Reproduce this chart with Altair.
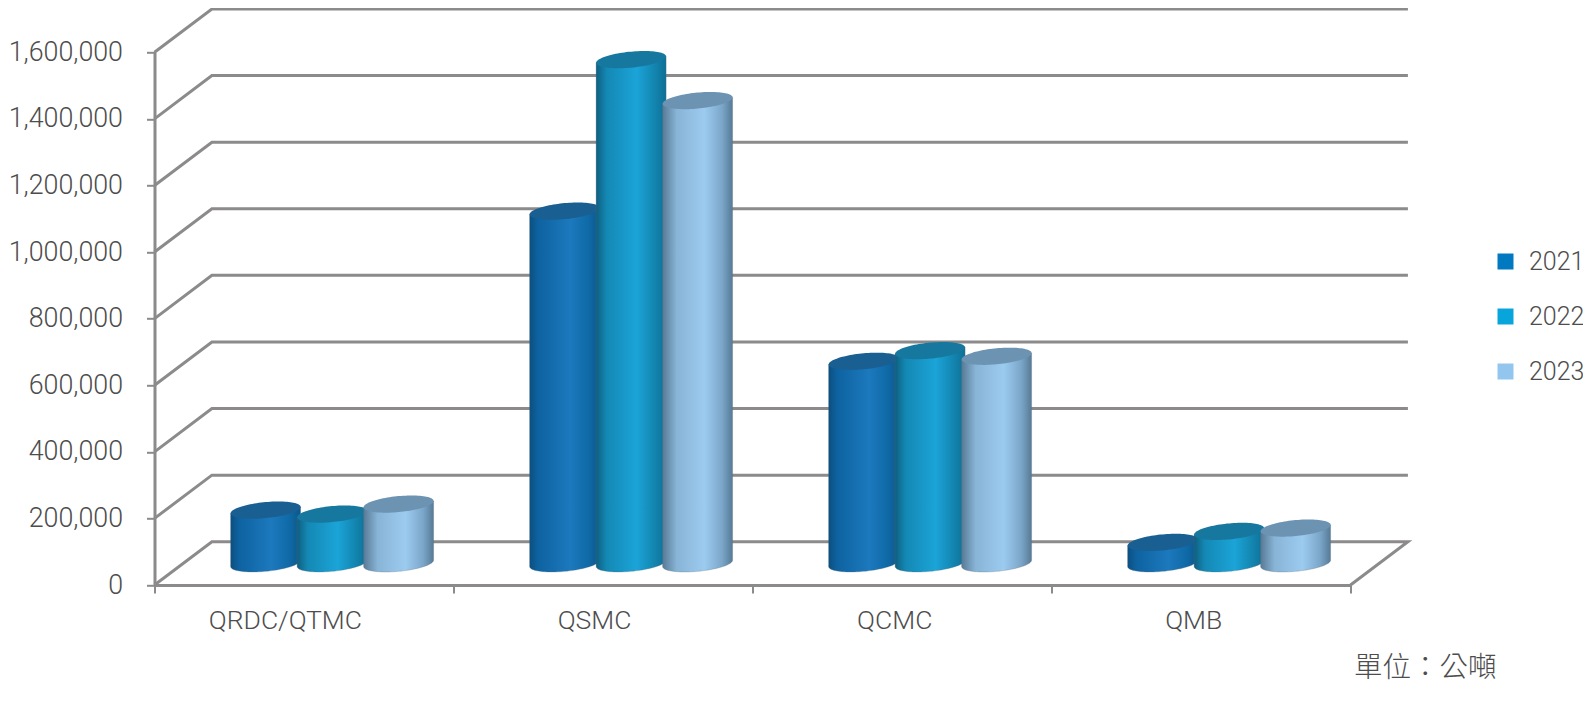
import math
import altair as alt
import pandas as pd

categories = ["QRDC/QTMC", "QSMC", "QCMC", "QMB"]
years = ["2021", "2022", "2023"]
values_2021 = [160000, 1058000, 607000, 63000]
values_2022 = [148000, 1513000, 639000, 96000]
values_2023 = [178000, 1390000, 622000, 106000]
series = [values_2021, values_2022, values_2023]
y_ticks = [0, 200000, 400000, 600000, 800000, 1000000, 1200000, 1400000, 1600000]
label_ticks = [0.436, 1.47, 2.474, 3.474]
unit_text = "單位：公噸"
legend_colors = ["#0079c1", "#08a5dc", "#93c6ee"]
top_colors = ["#1a5f92", "#16789f", "#6c93b2"]
grid_color = "#8c8a8a"
text_color = "#4d4d4d"
font = "Roboto"
gradients = [
    [(0, "#0b4f80"), (0.12, "#0e62a0"), (0.58, "#1c79bd"), (0.85, "#0f69a6"), (1, "#0c5688")],
    [(0, "#0e5f80"), (0.15, "#1488b4"), (0.58, "#1ba4d8"), (0.85, "#1283ad"), (1, "#0e6f95")],
    [(0, "#587a96"), (0.2, "#88b4d6"), (0.6, "#9ccbf0"), (0.85, "#7ba6c9"), (1, "#567a96")],
]

W, H = 1196, 532.7
PX_Y = 1600000 / H          # data units per pixel, vertical
PX_X = 4 / W                # data units per pixel, horizontal
DEPTH_X = 0.192             # 3D depth of the floor
DEPTH_Y = 130000
BASE = DEPTH_Y / 2
GROUP_C, STEP = 0.594, 0.2224
A, TILT, HH = 35.0, 3.2 / 35.0, 8.0

# walls
wall = []
for v in y_ticks:
    pts = [(0, v), (DEPTH_X, v + DEPTH_Y), (4 + DEPTH_X, v + DEPTH_Y)]
    if v == 0:
        pts.append((4, 0))
    for i, (x, y) in enumerate(pts):
        wall.append({"x": x, "y": y, "line": v, "i": i})

x_enc = alt.X(
    "x:Q",
    scale=alt.Scale(domain=[0, 4], nice=False, zero=False),
    axis=alt.Axis(
        title=None, grid=False, values=[0, 1, 2, 3, 4] + label_ticks,
        labelExpr="datum.value % 1 == 0 ? '' : " + str(categories) + "[floor(datum.value)]",
        tickColor={"condition": {"test": "datum.value % 1 == 0", "value": grid_color}, "value": "transparent"},
        tickSize=8, tickWidth=2, domainColor=grid_color, domainWidth=3,
        labelFont=font, labelFontSize=26.5, labelFontWeight=300, labelColor=text_color, labelPadding=14,
        labelBaseline="top", labelFlush=False, labelOverlap=False,
    ),
)
y_enc = alt.Y(
    "y:Q",
    scale=alt.Scale(domain=[0, 1600000], nice=False, zero=False),
    axis=alt.Axis(
        title=None, grid=False, values=y_ticks,
        labelExpr="format(datum.value, ',')",
        tickSize=8, tickWidth=2, tickColor=grid_color, domainColor=grid_color, domainWidth=3,
        labelFont=font, labelFontSize=26.8, labelFontWeight=300, labelColor=text_color, labelPadding=24,
    ),
)

layers = [
    alt.Chart(pd.DataFrame(wall)).mark_line(color=grid_color, strokeWidth=3, strokeJoin="miter").encode(
        x=x_enc, y=y_enc, detail="line:N", order="i:Q"
    )
]

for s, vals in enumerate(series):
    body, top = [], []
    for c, v in enumerate(vals):
        cx = c + GROUP_C + (s - 1) * STEP
        for k in range(49):
            th = math.pi - math.pi * k / 48
            dx = A * math.cos(th)
            mid = TILT * dx * PX_Y
            half = HH * math.sin(th) * PX_Y
            x = cx + dx * PX_X
            body.append({"x": x, "y": v + BASE + mid, "y2": BASE + mid - half, "cat": categories[c]})
            top.append({"x": x, "y": v + BASE + mid + half, "y2": v + BASE + mid - half, "cat": categories[c]})
    grad = alt.Gradient(
        gradient="linear", x1=0, x2=1, y1=0, y2=0,
        stops=[alt.GradientStop(offset=o, color=col) for o, col in gradients[s]],
    )
    layers.append(
        alt.Chart(pd.DataFrame(body)).mark_area(color=grad, stroke="#5f6f7a", strokeWidth=0.5, strokeOpacity=0.6).encode(
            x=x_enc, y=y_enc, y2="y2:Q", detail="cat:N"
        )
    )
    layers.append(
        alt.Chart(pd.DataFrame(top)).mark_area(color=top_colors[s]).encode(
            x=x_enc, y=y_enc, y2="y2:Q", detail="cat:N"
        )
    )

legend_layer = alt.Chart(pd.DataFrame({"year": years})).mark_square(opacity=0).encode(
    x=alt.value(0), y=alt.value(0),
    color=alt.Color(
        "year:N",
        scale=alt.Scale(domain=years, range=legend_colors),
        legend=alt.Legend(
            title=None, orient="none", legendX=1493 - 154.5, legendY=249 - 52.3,
            symbolType="square", symbolSize=256, symbolOpacity=1, symbolStrokeWidth=0,
            labelFont=font, labelFontSize=25, labelFontWeight=300, labelColor=text_color, labelOffset=11,
            rowPadding=29, padding=0,
        ),
    ),
)
layers.append(legend_layer)

unit_layer = alt.Chart(pd.DataFrame({"t": [unit_text]})).mark_text(
    font="Noto Sans CJK TC", fontSize=28.5, color=text_color, align="left", baseline="middle", fontWeight=300
).encode(x=alt.value(1354 - 154.5), y=alt.value(668 - 52.3), text="t:N")
layers.append(unit_layer)

chart = (
    alt.layer(*layers)
    .properties(
        width=W, height=H,
        autosize=alt.AutoSizeParams(type="none"),
        padding={"left": 146.5, "top": 44.3, "right": 1575 - 146.5 - W, "bottom": 694 - 44.3 - H},
    )
    .configure_view(stroke=None)
)
chart.save("out.html", embed_options={"renderer": "svg", "actions": False})
